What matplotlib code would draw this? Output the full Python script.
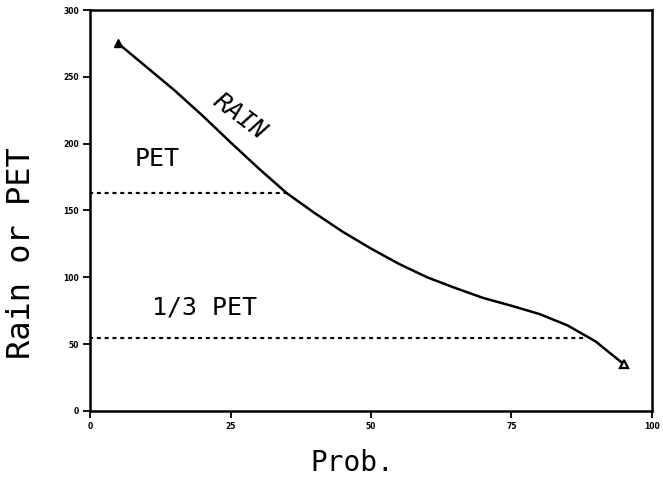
import numpy as np
import matplotlib
matplotlib.use("Agg")
import matplotlib.pyplot as plt

# values
prob = [5, 10, 15, 20, 25, 30, 35, 40, 45, 50, 55, 60, 65, 70, 75, 80, 85, 90, 95]
rain = [275, 257.5, 240, 221, 201, 181.5, 163, 148, 134, 121.5, 110, 100, 92, 84.5, 78.7, 72.5, 64, 52, 35]
pet = 163
pet_third = pet / 3
pet_end = 35.6
pet_third_end = 88

xticks = [0, 25, 50, 75, 100]
yticks = [0, 50, 100, 150, 200, 250, 300]

fig = plt.figure(figsize=(6.63, 4.8), dpi=100)
ax = fig.add_axes([0.136, 0.144, 0.847, 0.835])

ax.plot(prob, rain, color="black", lw=1.8, solid_joinstyle="round")
ax.plot(prob[0], rain[0], marker="^", color="black", ms=6)
ax.plot(prob[-1], rain[-1], marker="^", color="black", mfc="white", mew=1.6, ms=6)

ax.plot([0, pet_end], [pet, pet], color="black", lw=1.6,
        linestyle=(0, (1, 2.5)), dash_capstyle="round")
ax.plot([0, pet_third_end], [pet_third, pet_third], color="black", lw=1.6,
        linestyle=(0, (1, 2.5)), dash_capstyle="round")

mono = "DejaVu Sans Mono"
ax.text(26.7, 220, "RAIN", rotation=-37, fontsize=18, family=mono,
        style="italic", ha="center", va="center")
ax.text(8, 183, "PET", fontsize=18, family=mono)
ax.text(11, 72.5, "1/3 PET", fontsize=18, family=mono)

ax.set_xlim(0, 100)
ax.set_ylim(0, 300)
ax.set_xticks(xticks)
ax.set_yticks(yticks)
ax.set_xticklabels([str(v) for v in xticks], fontsize=5.5, fontweight="bold")
ax.set_yticklabels([str(v) for v in yticks], fontsize=5.5, fontweight="bold")
ax.tick_params(direction="out", length=5, width=1.3, pad=3)
for s in ax.spines.values():
    s.set_linewidth(1.8)

ax.set_xlabel("Prob.", fontsize=20, family=mono)
ax.xaxis.set_label_coords(0.466, -0.095)
ax.set_ylabel("Rain or PET", fontsize=23, family=mono)
ax.yaxis.set_label_coords(-0.094, 0.394)

fig.savefig("out.png", dpi=100)
